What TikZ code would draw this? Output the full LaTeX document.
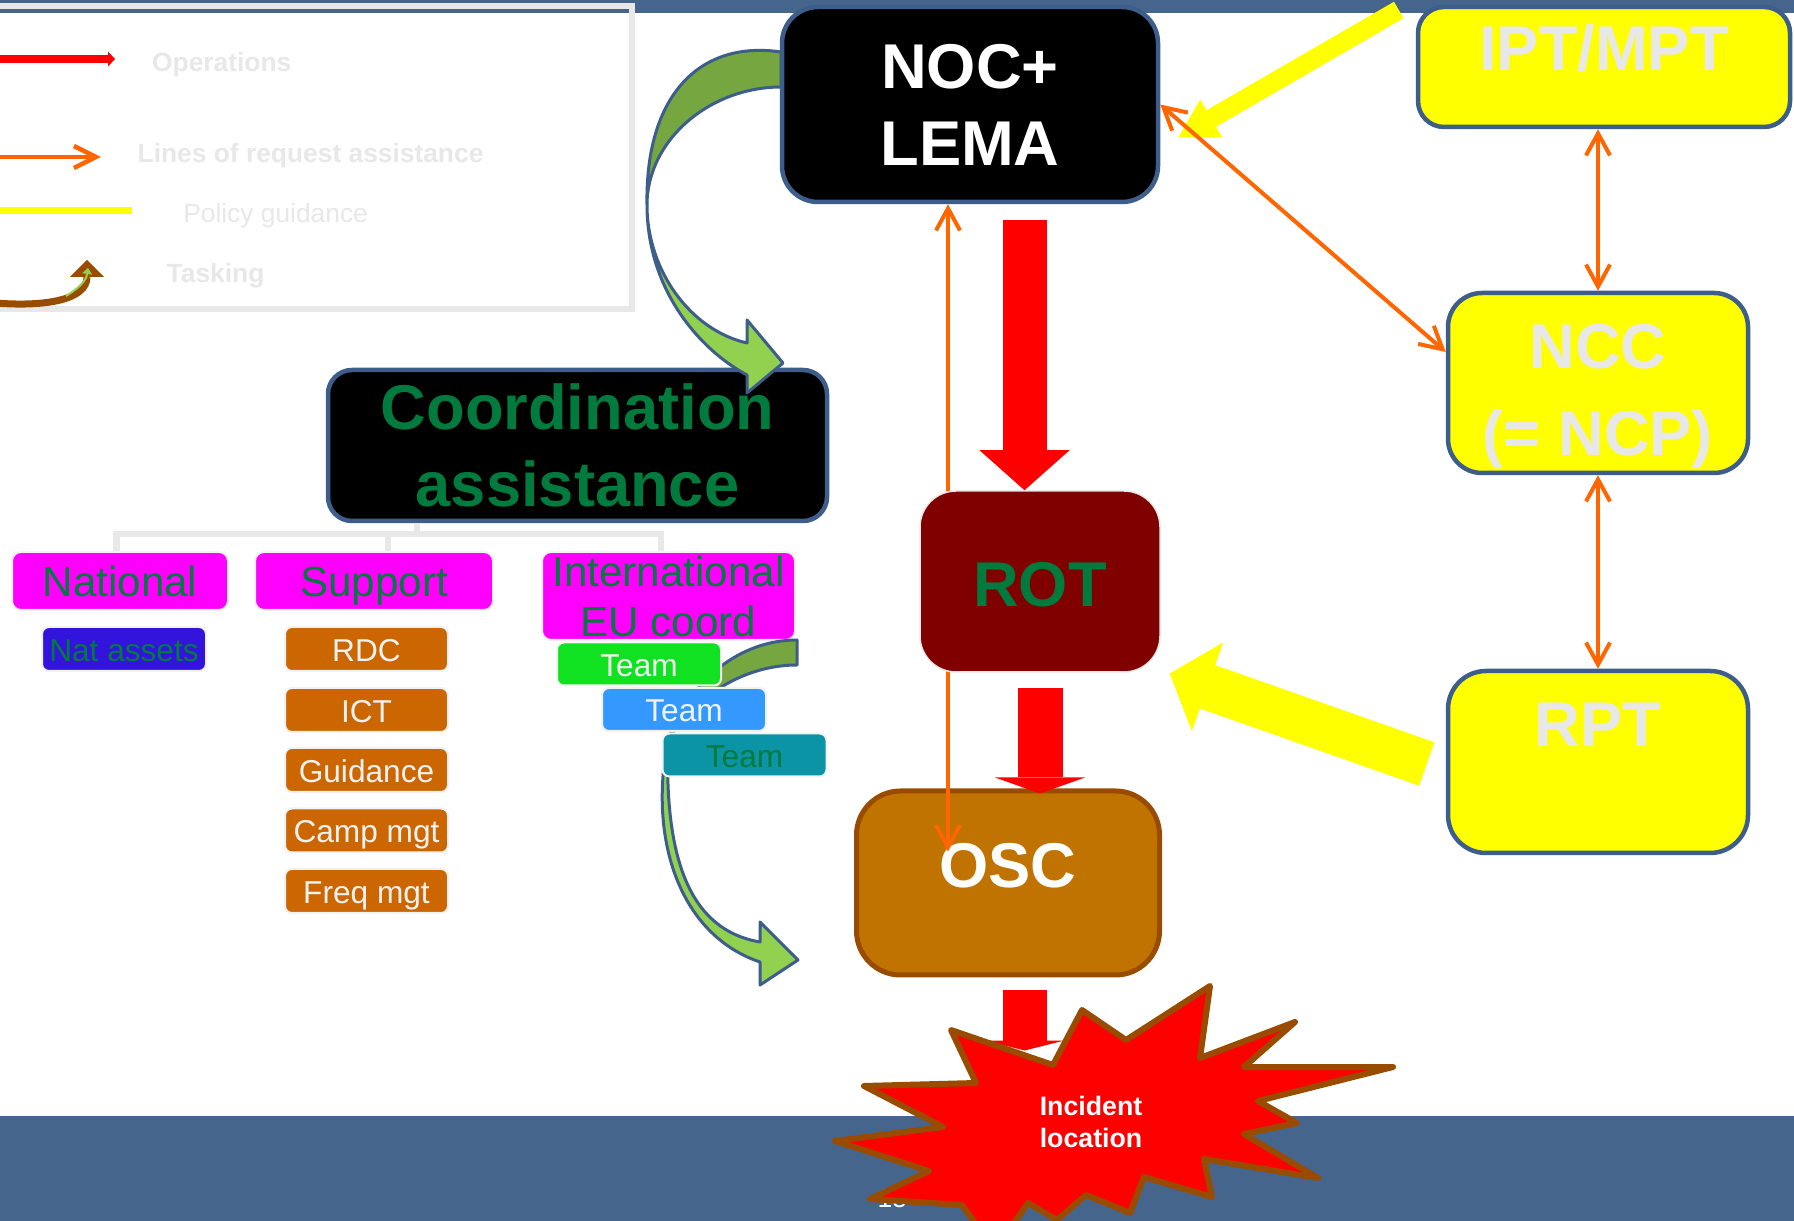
\documentclass[tikz,border=0pt]{standalone}
\usepackage{fontspec}
\setmainfont{Liberation Sans}
\usepackage{xcolor}
\usepackage{tikz}
\usetikzlibrary{calc}
\usetikzlibrary{arrows.meta}
\definecolor{bandblue}{RGB}{70,101,141}
\definecolor{edgeblue}{RGB}{61,94,138}
\definecolor{reqorange}{RGB}{255,102,0}
\definecolor{textgreen}{RGB}{0,122,61}
\definecolor{palegray}{RGB}{232,232,232}
\definecolor{offwhite}{RGB}{242,242,242}
\definecolor{orgmagenta}{RGB}{255,0,255}
\definecolor{polyellow}{RGB}{255,255,0}
\definecolor{opsred}{RGB}{255,0,0}
\definecolor{kidorange}{RGB}{204,102,0}
\definecolor{natblue}{RGB}{51,20,220}
\definecolor{teamgreen}{RGB}{16,226,33}
\definecolor{teamblue}{RGB}{51,153,255}
\definecolor{teamteal}{RGB}{11,148,166}
\definecolor{rotred}{RGB}{128,0,0}
\definecolor{oscfill}{RGB}{192,115,0}
\definecolor{brownedge}{RGB}{153,76,0}
\definecolor{taskdark}{RGB}{118,166,64}
\definecolor{tasklight}{RGB}{146,208,80}

\begin{document}
\begin{tikzpicture}[x=0.1mm,y=-0.1mm,
        bigbox/.style={draw=edgeblue,line width=0.45mm,inner sep=0pt,align=center,font=\fontsize{18}{21.9}\selectfont\bfseries},
        orgbox/.style={fill=orgmagenta,draw=offwhite,line width=0.2mm,rounded corners=0.9mm,inner sep=0pt,text=textgreen,font=\fontsize{12}{14.2}\selectfont,align=center},
        smallbox/.style={draw=offwhite,line width=0.2mm,rounded corners=0.7mm,inner sep=0pt,text height=2.5mm,text depth=0mm,font=\fontsize{9}{11}\selectfont},
        kidbox/.style={smallbox,fill=kidorange,text=offwhite,minimum width=16.3mm,minimum height=4.4mm},
        teambox/.style={smallbox,minimum width=16.4mm,minimum height=4.3mm},
        legendtext/.style={anchor=base west,inner sep=0pt,text=palegray,font=\fontsize{7.5}{9}\selectfont},
        orgline/.style={draw=palegray,line width=0.65mm},
        tasking/.style={draw=edgeblue,line width=0.3mm,line join=round},
        ops/.style={opsred,line width=4.4mm},
        req/.style={reqorange,line width=0.4mm,>={Straight Barb[length=2.2mm,width=2.4mm]},<->},
        policy/.style={polyellow},
        burst/.style={fill=opsred,draw=brownedge,line width=0.6mm,line join=round}]
    \useasboundingbox (0,0) rectangle (1794,1221);
    \clip (0,0) rectangle (1794,1221);
    \fill[white] (0,0) rectangle (1794,1221);
    \fill[bandblue] (0,0) rectangle (1794,12.7);
    \fill[bandblue] (0,1115.5) rectangle (1794,1221);

    \draw[palegray,line width=0.6mm] (-10,6.5) rectangle (632,309);
    \draw[opsred,line width=0.8mm,-{Triangle[length=0.7mm,width=1.5mm,line width=0pt]}] (-5,59) -- (115,59);
    \draw[reqorange,line width=0.45mm,-{Straight Barb[length=2.2mm,width=2.2mm]}] (-5,157) -- (101,157);
    \draw[polyellow,line width=0.7mm] (-5,210.5) -- (132,210.5);
    \draw[brownedge,line width=0.7mm,-{Triangle[length=1.7mm,width=3.4mm,line width=0pt]}] (-5,303) .. controls (45,307) and (87,300) .. (87,260);
    \draw[tasklight,line width=0.2mm,-{Triangle[length=0.6mm,width=1mm,line width=0pt]}] (66,296) .. controls (76,290) and (86,282) .. (88,268);
    \node[legendtext,font=\fontsize{7.5}{9}\selectfont\bfseries] (leg-ops) at (151.5,72) {Operations};
    \node[legendtext,font=\fontsize{7.5}{9}\selectfont\bfseries] (leg-req) at (137,163) {Lines of request assistance};
    \node[legendtext] (leg-policy) at (182.6,222.7) {Policy guidance};
    \node[legendtext,font=\fontsize{7.5}{9}\selectfont\bfseries] (leg-task) at (166,283) {Tasking};

    \node[bigbox,fill=black,text=textgreen,rounded corners=2.4mm,minimum width=49.9mm,minimum height=15.1mm] (coord) at (577.5,445.5) {Coordination\\assistance};
    \draw[tasking,fill=taskdark] (781,52) .. controls (700,40) and (645,95) .. (647,205) .. controls (647,140) and (710,87) .. (781,87) -- cycle;
    \draw[tasking,fill=tasklight] (647,205) .. controls (647,290) and (700,350) .. (747,375) -- (747,393) -- (783,363) -- (747,320) -- (747,343) .. controls (690,330) and (647,270) .. (647,205) -- cycle;
    \node[bigbox,fill=black,text=white,rounded corners=3.6mm,minimum width=37.6mm,minimum height=19.5mm] (noc) at (970,104.5) {NOC+\\LEMA};

    \node[orgbox,text height=3.2mm,text depth=0mm,minimum width=21.6mm,minimum height=5.8mm] (national) at (120,581) {National};
    \node[orgbox,text height=3.2mm,text depth=0mm,minimum width=23.8mm,minimum height=5.8mm] (support) at (374,581) {Support};
    \node[orgbox,minimum width=25.3mm,minimum height=8.8mm] (intl) at (668.5,596) {International\\EU coord};
    \node[smallbox,fill=natblue,text=textgreen,minimum width=16.4mm,minimum height=4.4mm] (natassets) at (124,649) {Nat assets};
    \node[kidbox] (rdc) at (366.5,649) {RDC};
    \node[kidbox] (ict) at (366.5,710) {ICT};
    \node[kidbox] (guidance) at (366.5,770) {Guidance};
    \node[kidbox] (campmgt) at (366.5,830.5) {Camp mgt};
    \node[kidbox] (freqmgt) at (366.5,891) {Freq mgt};
    \coordinate (org-hub) at ($(coord.south)+(-160.5,12)$);
    \draw[orgline] (org-hub |- coord.south) -- (org-hub);
    \draw[orgline] ($(national.north)+(-3.5,0)$) |- ($(intl.north)+(-7.5,-17)$) -- ($(intl.north)+(-7.5,0)$);
    \draw[orgline] ($(support.north)+(14,0)$) -- +(0,-17);

    \draw[tasking,fill=taskdark] (797,640) .. controls (740,640) and (690,680) .. (668,740) .. controls (700,690) and (750,665) .. (797,665) -- cycle;
    \draw[tasking,fill=tasklight] (668,740) .. controls (648,840) and (680,935) .. (760,962) -- (760,985) -- (798,960) -- (760,922) -- (760,942) .. controls (690,930) and (664,860) .. (668,740) -- cycle;
    \node[teambox,fill=teamgreen,text=offwhite] (team-a) at (639,664) {Team};
    \node[teambox,fill=teamblue,text=offwhite] (team-b) at (684,709.5) {Team};
    \node[teambox,fill=teamteal,text=textgreen] (team-c) at (744.5,755) {Team};

    \node[bigbox,fill=polyellow,text=palegray,rounded corners=2.6mm,minimum width=37.2mm,minimum height=12mm,text depth=3.8mm] (ipt) at (1604,67) {IPT/MPT};
    \node[bigbox,fill=polyellow,text=palegray,rounded corners=3.4mm,minimum width=30mm,minimum height=18mm,font=\fontsize{18}{24.5}\selectfont\bfseries] (ncc) at (1598,383) {\rule{0pt}{7.2mm}NCC\\(= NCP)\rule[-1.4mm]{0pt}{1.4mm}};
    \node[bigbox,fill=polyellow,text=palegray,rounded corners=3.8mm,minimum width=30mm,minimum height=18.2mm,text depth=7.5mm] (rpt) at (1598,762) {RPT};

    \node[bigbox,fill=oscfill,draw=brownedge,text=white,line width=0.5mm,rounded corners=4.4mm,minimum width=30.3mm,minimum height=18.4mm,text depth=3.6mm] (osc) at (1008,883) {OSC};
    \coordinate (req-low) at ($(osc.north)+(-60,63)$);
    \draw[req] (req-low) -- (req-low |- noc.south);
    \node[bigbox,fill=rotred,draw=palegray,text=textgreen,line width=0.15mm,rounded corners=3.6mm,minimum width=24mm,minimum height=18.1mm,text height=5.1mm,text depth=0mm] (rot) at (1040,581.5) {ROT};

    \coordinate (ops-a) at ($(noc.south)+(54.5,16)$);
    \draw[ops,-{Triangle[length=4mm,width=9mm,line width=0pt]}] (ops-a) -- (ops-a |- rot.north);
    \coordinate (ops-b) at ($(rot.south)+(0,15)$);
    \draw[ops,line width=4.5mm,-{Triangle[length=1.6mm,width=9mm,line width=0pt]}] (ops-b) -- ($(ops-b |- osc.north)+(0,5)$);
    \coordinate (ops-c) at ($(osc.south)+(16.5,13)$);
    \draw[ops,-{Triangle[length=1mm,width=8mm,line width=0pt]}] (ops-c) -- ($(ops-c)+(0,60)$);

    \node[anchor=base west,inner sep=0pt,text=white,font=\fontsize{7.5}{9}\selectfont] (slideno) at (877,1207) {15};
    \draw[burst] (1210,986) -- (1200,1058) -- (1295,1022) -- (1244,1067) -- (1393,1067) -- (1258,1101) -- (1297,1123) -- (1244,1134) -- (1318,1178) -- (1204,1159) -- (1212,1197) -- (1144,1177) -- (1130,1213) -- (1086,1195) -- (1057,1220) -- (1028,1203) -- (995,1250) -- (962,1205) -- (870,1199) -- (929,1171) -- (835,1141) -- (943,1127) -- (864,1086) -- (976,1083) -- (951,1030) -- (1053,1065) -- (1082,1010) -- (1126,1040) -- cycle;
    \node[text=white,align=center,inner sep=0pt,font=\fontsize{7.6}{9.1}\selectfont\bfseries] (incident) at (1091,1121.5) {Incident\\location};

    \coordinate (policy-a) at ($(ipt.west)+(-17,-57)$);
    \coordinate (policy-b) at ($(noc.east)+(51,14)$);
    \draw[policy,line width=1.9mm] (policy-a) -- (policy-b);
    \fill[policy] ($(policy-b)+(-11,-19)$) -- ($(policy-b)+(-33,19)$) -- ($(policy-b)+(11,19)$) -- cycle;
    \coordinate (policy-c) at ($(rpt.west)+(-19,2)$);
    \coordinate (policy-d) at ($(rot.east)+(9,92)$);
    \draw[policy,line width=4.6mm,-{Triangle[length=4mm,width=9.4mm,line width=0pt]}] (policy-c) -- (policy-d);

    \draw[req] (noc.east) -- ($(ncc.west)+(0,-31)$);
    \draw[req] (ncc.north |- ipt.south) -- (ncc.north);
    \draw[req] (ncc.south) -- (rpt.north);
\end{tikzpicture}
\end{document}
